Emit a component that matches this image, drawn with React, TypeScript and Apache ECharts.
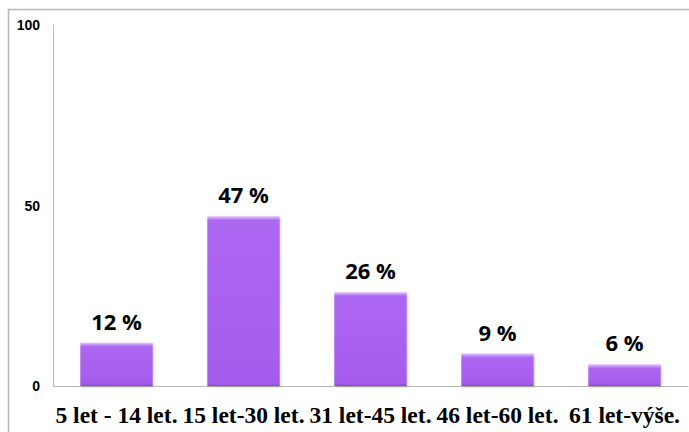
import React, { useEffect, useRef } from "react";
import * as echarts from "echarts";

const categories = ["5 let - 14 let.", "15 let-30 let.", "31 let-45 let.", "46 let-60 let.", "61 let-výše."];
const values = [12, 47, 26, 9, 6];
const yTicks = [0, 50, 100];

export default function App() {
  const ref = useRef<HTMLDivElement>(null);
  useEffect(() => {
    const chart = echarts.init(ref.current!, null, { renderer: "svg" });
    const plotH = 361;
    const barStyle = (v: number) => {
      const h = (v / 100) * plotH;
      const t = Math.min(0.5, 4 / h);
      const b = Math.max(0.5, 1 - 3 / h);
      return {
        color: new echarts.graphic.LinearGradient(0, 0, 0, 1, [
          { offset: 0, color: "#e2c2fc" },
          { offset: t, color: "#ad67f2" },
          { offset: b, color: "#a55cec" },
          { offset: 1, color: "#8e4dd2" },
        ]),
        shadowColor: "rgba(0,0,0,0.2)",
        shadowBlur: 2,
        shadowOffsetX: 1,
        shadowOffsetY: 1,
      };
    };
    chart.setOption({
      animation: false,
      backgroundColor: "#ffffff",
      grid: { left: 53, right: 1, top: 25, bottom: 46, containLabel: false },
      xAxis: {
        type: "category",
        data: categories,
        axisLine: { lineStyle: { color: "#b8b8b8", width: 1 } },
        axisTick: { show: false },
        axisLabel: {
          interval: 0,
          hideOverlap: false,
          margin: 17,
          color: "#000",
          fontFamily: "Liberation Serif",
          fontWeight: "bold",
          fontSize: 23.5,
        },
      },
      yAxis: {
        type: "value",
        min: 0,
        max: 100,
        interval: 50,
        axisLine: { show: true, lineStyle: { color: "#b8b8b8", width: 1 } },
        axisTick: { show: false },
        splitLine: { show: false },
        axisLabel: {
          margin: 13,
          color: "#000",
          fontFamily: "Liberation Sans",
          fontWeight: "bold",
          fontSize: 14,
          formatter: (v: number) => (yTicks.includes(v) ? String(v) : ""),
        },
      },
      series: [
        {
          type: "bar",
          data: values.map((v) => ({ value: v, itemStyle: barStyle(v) })),
          barCategoryGap: "43%",
          label: {
            show: true,
            position: "top",
            distance: 11,
            formatter: (p: any) => p.value + " %",
            color: "#000",
            fontFamily: "Open Sans",
            fontWeight: "bold",
            fontSize: 22,
          },
        },
      ],
      graphic: [
        { type: "line", shape: { x1: 8, y1: 9.5, x2: 689, y2: 9.5 }, style: { stroke: "#b8b8b8", lineWidth: 1.5 } },
        { type: "line", shape: { x1: 8.5, y1: 9, x2: 8.5, y2: 432 }, style: { stroke: "#b8b8b8", lineWidth: 1.5 } },
      ],
    });
    return () => chart.dispose();
  }, []);
  return <div ref={ref} style={{ position: "absolute", left: 0, top: 0, width: 689, height: 432 }} />;
}
